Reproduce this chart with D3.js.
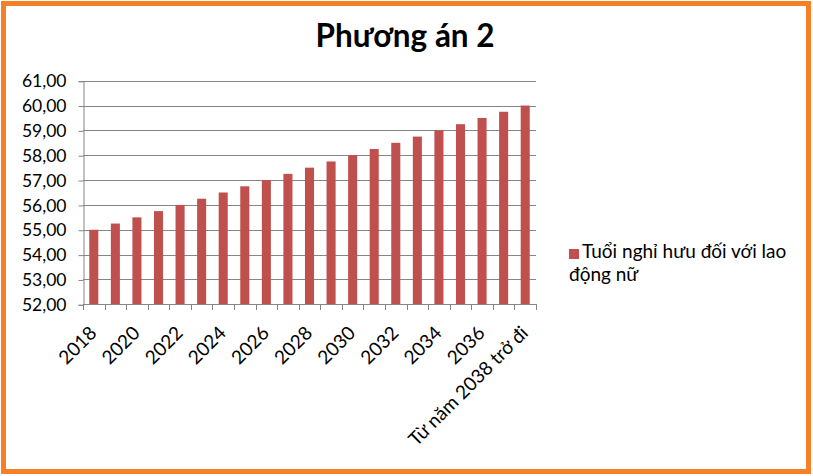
<!DOCTYPE html>
<html>
<head>
<meta charset="utf-8">
<script src="https://cdn.jsdelivr.net/npm/d3@7"></script>
<style>
  body { margin: 0; background: #fff; }
  text { font-family: Lato, "Open Sans", sans-serif; }
</style>
</head>
<body>
<div id="chart"></div>
<script>
// data
var years = ["2018","2019","2020","2021","2022","2023","2024","2025","2026","2027",
             "2028","2029","2030","2031","2032","2033","2034","2035","2036","2037",
             "Từ năm 2038 trở đi"]
var ages = [55.00,55.25,55.50,55.75,56.00,56.25,56.50,56.75,57.00,57.25,
            57.50,57.75,58.00,58.25,58.50,58.75,59.00,59.25,59.50,59.75,60.00]
var yTicks = [52,53,54,55,56,57,58,59,60,61]
var seriesName = ["Tuổi nghỉ hưu đối với lao", "động nữ"]
var title = "Phương án 2"

var sheet = {w:813, h:476, left:83, right:536, top:80.7, bottom:304.3}

var svg = d3.select("#chart")
    .append("svg")
    .attr("width", sheet.w)
    .attr("height", sheet.h)

//orange frame
svg.append("rect")
    .attr("x",3.5).attr("y",3.5)
    .attr("width",805).attr("height",468)
    .attr("fill","white")
    .attr("stroke","#F58025")
    .attr("stroke-width",5)

svg.append("text")
    .attr("x",405).attr("y",47)
    .attr("text-anchor","middle")
    .attr("font-weight","bold")
    .attr("font-size",31.5)
    .text(title)

var x = d3.scaleBand()
    .domain(years)
    .range([sheet.left, sheet.right])
    .paddingInner(0.58)
    .paddingOuter(0.29)

var y = d3.scaleLinear()
    .domain([52,61])
    .range([sheet.bottom, sheet.top])

//gridlines
svg.append("g")
    .selectAll("line")
    .data(yTicks.slice(1))
    .enter()
    .append("line")
    .attr("x1",sheet.left).attr("x2",sheet.right)
    .attr("y1",function(d){return Math.round(y(d))+0.5})
    .attr("y2",function(d){return Math.round(y(d))+0.5})
    .attr("stroke","#868686")

//bars
svg.append("g")
    .selectAll("rect")
    .data(ages)
    .enter()
    .append("rect")
    .attr("x",function(d,i){return x(years[i])})
    .attr("width",x.bandwidth())
    .attr("y",function(d){return y(d)})
    .attr("height",function(d){return sheet.bottom - y(d)})
    .attr("fill","#C0504D")

//y axis
var yAxis = d3.axisLeft(y)
    .tickValues(yTicks)
    .tickSize(5)
    .tickPadding(12)
    .tickFormat(function(d){return d3.format(".2f")(d).replace(".",",")})
var gy = svg.append("g")
    .attr("transform","translate("+(sheet.left+0.5)+",0.5)")
    .call(yAxis)
gy.select(".domain").attr("stroke","#868686")
gy.selectAll(".tick line").attr("stroke","#868686")
gy.selectAll(".tick text").attr("font-size",17.5).attr("fill","#000").attr("font-family","Lato")

//x axis - ticks go between categories
var bounds = d3.range(years.length+1).map(function(i){return sheet.left + i*(sheet.right-sheet.left)/years.length})
var gx = svg.append("g")
gx.append("line")
    .attr("x1",sheet.left).attr("x2",sheet.right)
    .attr("y1",Math.round(sheet.bottom)+0.5).attr("y2",Math.round(sheet.bottom)+0.5)
    .attr("stroke","#868686")
gx.selectAll("line.tk")
    .data(bounds)
    .enter()
    .append("line")
    .attr("class","tk")
    .attr("x1",function(d){return Math.round(d)+0.5})
    .attr("x2",function(d){return Math.round(d)+0.5})
    .attr("y1",Math.round(sheet.bottom)).attr("y2",Math.round(sheet.bottom)+6)
    .attr("stroke","#868686")

gx.selectAll("text")
    .data(years.filter(function(d,i){return i%2==0}))
    .enter()
    .append("text")
    .attr("font-size",19)
    .attr("text-anchor","end")
    .attr("transform",function(d){
        var cx = x(d) + x.bandwidth()/2 + 4
        return "translate("+cx+","+(sheet.bottom+30)+") rotate(-45)"
    })
    .text(function(d){return d})

//legend
svg.append("rect")
    .attr("x",569).attr("y",249)
    .attr("width",10).attr("height",10)
    .attr("fill","#C0504D")
svg.append("g")
    .selectAll("text")
    .data(seriesName)
    .enter()
    .append("text")
    .attr("x",function(d,i){return i==0 ? 582 : 569})
    .attr("y",function(d,i){return 258 + i*23})
    .attr("font-size",19)
    .text(function(d){return d})
</script>
</body>
</html>
